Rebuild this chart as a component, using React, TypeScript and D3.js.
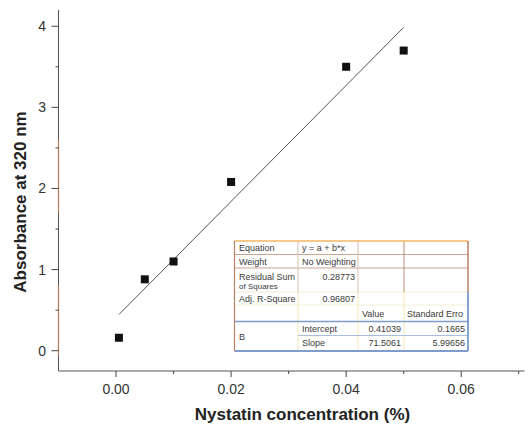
import React from "react";
import * as d3 from "d3";

// nystatin calibration data
const concentration = [0.0005, 0.005, 0.01, 0.02, 0.04, 0.05];
const absorbance = [0.16, 0.88, 1.1, 2.08, 3.5, 3.7];
const intercept = 0.41039;
const slope = 71.5061;

const xMajor = [0, 0.02, 0.04, 0.06];
const xMinor = [0.01, 0.03, 0.05, 0.07];
const yMajor = [0, 1, 2, 3, 4];
const yMinor = [0.5, 1.5, 2.5, 3.5];

const W = 528;
const H = 425;
const font = "'Liberation Sans', Arial, sans-serif";

export default function App() {
  const x = d3.scaleLinear().domain([-0.01, 0.071]).range([58.5, 524.5]);
  const y = d3.scaleLinear().domain([-0.25, 4.2]).range([371, 10]);
  const x0 = x(-0.01);
  const yB = y(-0.25);

  const fitX = [concentration[0], concentration[concentration.length - 1]];
  const fitLine = d3
    .line<number>()
    .x((d) => x(d))
    .y((d) => y(intercept + slope * d))(fitX);

  // results table geometry
  const cols = [234.5, 298, 358, 404, 468];
  const rows = [241, 254.5, 268, 292, 305, 321.5, 335.5, 351];
  const tf = 9;
  const tc = "#3a3a3a";

  return (
    <svg
      width={W}
      height={H}
      style={{ position: "absolute", left: 0, top: 0, background: "#fff" }}
      fontFamily={font}
    >
      <rect width={W} height={H} fill="#fff" />

      {/* axes */}
      <line x1={x0} x2={x(0.071)} y1={yB} y2={yB} stroke="#555" />
      <line x1={x0} x2={x0} y1={y(4.2)} y2={yB} stroke="#555" />
      <line x1={x0} x2={x0} y1={y(-0.06)} y2={y(0.8)} stroke="#b07a55" strokeWidth={1.2} />
      <line x1={x0} x2={x0} y1={y(1.7)} y2={y(2.6)} stroke="#b07a55" strokeWidth={1.2} />

      {xMajor.map((t) => (
        <g key={"xm" + t}>
          <line x1={x(t)} x2={x(t)} y1={yB} y2={yB + 6} stroke="#444" />
          <text x={x(t)} y={394} fontSize={14} textAnchor="middle" fill="#333">
            {d3.format(".2f")(t)}
          </text>
        </g>
      ))}
      {xMinor.map((t) => (
        <line key={"xn" + t} x1={x(t)} x2={x(t)} y1={yB} y2={yB + 3} stroke="#444" />
      ))}
      {yMajor.map((t) => (
        <g key={"ym" + t}>
          <line x1={x0 - 7} x2={x0} y1={y(t)} y2={y(t)} stroke="#444" />
          <text x={46} y={y(t) + 5} fontSize={14} textAnchor="end" fill="#333">
            {t}
          </text>
        </g>
      ))}
      {yMinor.map((t) => (
        <line key={"yn" + t} x1={x0 - 3} x2={x0} y1={y(t)} y2={y(t)} stroke="#444" />
      ))}

      <text
        x={(x(-0.01) + x(0.071)) / 2 + 11}
        y={420}
        fontSize={17}
        fontWeight="bold"
        textAnchor="middle"
        fill="#222"
      >
        Nystatin concentration (%)
      </text>
      <text
        transform={`translate(26,202) rotate(-90)`}
        fontSize={17}
        fontWeight="bold"
        textAnchor="middle"
        fill="#222"
      >
        Absorbance at 320 nm
      </text>

      {/* linear fit */}
      <path d={fitLine || ""} fill="none" stroke="#555" strokeWidth={1} />

      {/* data points */}
      {concentration.map((c, i) => (
        <rect
          key={"p" + i}
          x={x(c) - 4}
          y={y(absorbance[i]) - 4}
          width={8}
          height={8}
          fill="#111"
        />
      ))}

      {/* fit results table */}
      <g>
        <rect x={cols[0]} y={rows[0]} width={cols[4] - cols[0]} height={rows[7] - rows[0]} fill="#fff" />
        {/* upper grid */}
        <line x1={cols[0]} x2={cols[4]} y1={rows[1]} y2={rows[1]} stroke="#c9a592" />
        <line x1={cols[0]} x2={cols[4]} y1={rows[2]} y2={rows[2]} stroke="#c9a592" />
        <line x1={cols[0]} x2={cols[4]} y1={rows[3]} y2={rows[3]} stroke="#f3ead0" />
        <line x1={cols[0]} x2={cols[4]} y1={rows[4]} y2={rows[4]} stroke="#f6efd8" />
        <line x1={cols[1]} x2={cols[1]} y1={rows[0]} y2={rows[3]} stroke="#d8bfae" />
        <line x1={cols[2]} x2={cols[2]} y1={rows[0]} y2={rows[3]} stroke="#d8bfae" />
        <line x1={cols[3]} x2={cols[3]} y1={rows[0]} y2={rows[3]} stroke="#b88a72" />
        {/* lower grid */}
        <line x1={cols[1]} x2={cols[1]} y1={rows[3]} y2={rows[7]} stroke="#f2e6b4" />
        <line x1={cols[2]} x2={cols[2]} y1={rows[3]} y2={rows[7]} stroke="#f2e6b4" />
        <line x1={cols[3]} x2={cols[3]} y1={rows[3]} y2={rows[7]} stroke="#f2e6b4" />
        <line x1={cols[0]} x2={cols[4]} y1={rows[5]} y2={rows[5]} stroke="#7f9ccc" strokeWidth={1.5} />
        <line x1={cols[1]} x2={cols[4]} y1={rows[6]} y2={rows[6]} stroke="#a9bfdf" />
        <line x1={cols[0]} x2={cols[4]} y1={rows[7]} y2={rows[7]} stroke="#7f9ccc" strokeWidth={2} />
        {/* borders */}
        <line x1={cols[0]} x2={cols[4]} y1={rows[0]} y2={rows[0]} stroke="#f2b766" strokeWidth={1.5} />
        <line x1={cols[0]} x2={cols[0]} y1={rows[0]} y2={rows[7]} stroke="#b98064" strokeWidth={1.2} />
        <line x1={cols[4]} x2={cols[4]} y1={rows[0]} y2={rows[3]} stroke="#b98064" strokeWidth={1.5} />
        <line x1={cols[4]} x2={cols[4]} y1={rows[3]} y2={rows[7]} stroke="#5f86bf" strokeWidth={1.5} />

        <g fontSize={tf} fill={tc}>
          <text x={239} y={251}>Equation</text>
          <text x={302} y={251}>y = a + b*x</text>
          <text x={239} y={264.5}>Weight</text>
          <text x={302} y={264.5}>No Weighting</text>
          <text x={239} y={280}>Residual Sum</text>
          <text x={239} y={289} fontSize={8}>of Squares</text>
          <text x={355} y={280} textAnchor="end">0.28773</text>
          <text x={239} y={302}>Adj. R-Square</text>
          <text x={355} y={302} textAnchor="end">0.96807</text>
          <text x={362} y={316.5}>Value</text>
          <text x={407} y={316.5}>Standard Erro</text>
          <text x={239} y={340}>B</text>
          <text x={302} y={331.5}>Intercept</text>
          <text x={401} y={331.5} textAnchor="end">{intercept.toFixed(5)}</text>
          <text x={465} y={331.5} textAnchor="end">0.1665</text>
          <text x={302} y={346}>Slope</text>
          <text x={401} y={346} textAnchor="end">{slope.toFixed(4)}</text>
          <text x={465} y={346} textAnchor="end">5.99656</text>
        </g>
      </g>
    </svg>
  );
}
